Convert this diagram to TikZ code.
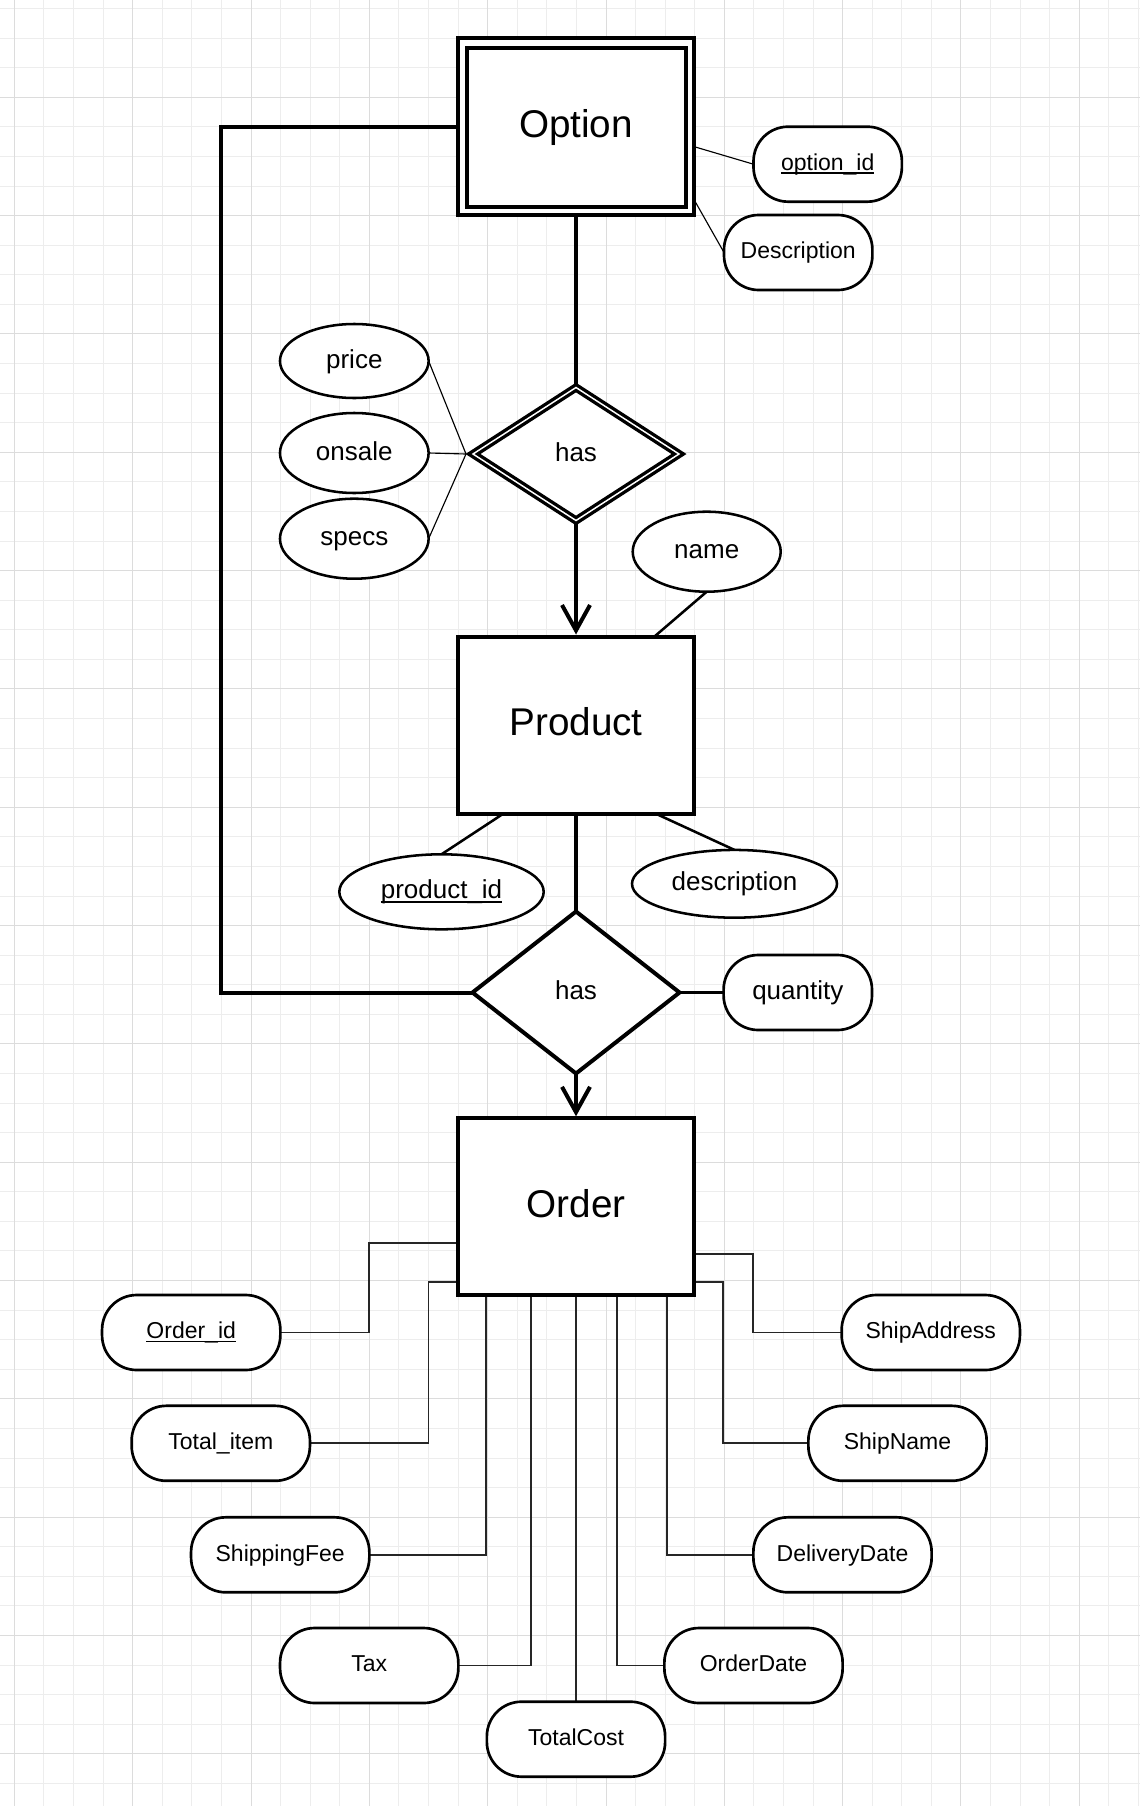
\documentclass[tikz,border=0pt]{standalone}
\usepackage{fontspec}
\setmainfont{Liberation Sans}
\usetikzlibrary{shapes.geometric,arrows.meta,calc}
\pgfdeclarelayer{gridlayer}
\pgfdeclarelayer{connlayer}
\pgfsetlayers{gridlayer,connlayer,main}
\newcommand\ulin[1]{\setbox0\hbox{#1}\rlap{\rule[-0.15em]{\wd0}{0.06em}}\box0}
\definecolor{gridminor}{HTML}{EDEDED}
\definecolor{gridmajor}{HTML}{DCDCDC}
\begin{document}
\begin{tikzpicture}[x=0.75pt,y=-0.75pt,
  every node/.style={outer sep=0pt, inner sep=0pt},
  entity/.style={draw, line width=3pt, fill=white, minimum width=177.4pt, minimum height=132.75pt,
    font=\fontsize{29}{34}\selectfont, text height=15.7pt, text depth=0pt},
  relship/.style={diamond, draw, fill=white, font=\fontsize{19.5}{23}\selectfont, text height=10.5pt, text depth=0pt},
  attrell/.style={ellipse, draw, line width=1.9pt, fill=white, minimum width=111.5pt, minimum height=60pt,
    font=\fontsize{19.5}{23}\selectfont, text height=10.5pt, text depth=0pt},
  attrpill/.style={rectangle, rounded corners=26pt, draw, line width=2pt, fill=white, minimum width=133.7pt,
    minimum height=56.25pt, font=\fontsize{17.25}{21}\selectfont, text height=9.3pt, text depth=0pt},
  smallpill/.style={attrpill, minimum width=111.3pt},
  flow/.style={line width=3pt},
  link/.style={line width=1.9pt},
  hair/.style={line width=0.85pt},
  oline/.style={line width=1.3pt, black!85},
  barb/.style={-{Straight Barb[length=19pt,width=21pt]}, shorten >=1.5pt},
]
\useasboundingbox (0,0) rectangle (1140,1806);

% ---------- grid ----------
\begin{pgfonlayer}{gridlayer}
\fill[white] (0,0) rectangle (1140,1806);
\foreach \k in {0,...,38} \draw[gridminor, line width=0.75pt] ({14.4+\k*29.58},0) -- ({14.4+\k*29.58},1806);
\foreach \k in {0,...,60} \draw[gridminor, line width=0.75pt] (0,{8.6+\k*29.58}) -- (1140,{8.6+\k*29.58});
\foreach \k in {0,4,...,36} \draw[gridmajor, line width=0.75pt] ({14.4+\k*29.58},0) -- ({14.4+\k*29.58},1806);
\foreach \k in {3,7,...,59} \draw[gridmajor, line width=0.75pt] (0,{8.6+\k*29.58}) -- (1140,{8.6+\k*29.58});
\end{pgfonlayer}

% ---------- entities ----------
\node[entity] (option) at (576,126.7) {Option};
\draw[line width=3pt] ([shift={(9.5,10)}]option.north west) rectangle ([shift={(-8.5,-8.5)}]option.south east);
\node[entity] (product) at (576,725) {Product};
\node[entity] (order) at (576,1206.8) {Order};

% ---------- relationships ----------
\node[relship, double=white, double distance=1.1pt, line width=2.5pt, minimum width=154.5pt, minimum height=99.75pt] (has1) at (576,454) {has};
\node[relship, line width=3pt, minimum width=155.25pt, minimum height=121.5pt] (has2) at (576,992.5) {has};

% ---------- attributes ----------
\node[smallpill] (optid) at (827.7,164.2) {\ulin{option\_id}};
\node[smallpill] (optdesc) at (798.2,252.5) {Description};

\node[attrell, minimum height=55.5pt] (price) at (354.3,361) {price};
\node[attrell] (onsale) at (354.3,453) {onsale};
\node[attrell] (specs) at (354.3,538.7) {specs};
\node[attrell, minimum width=111pt] (name) at (706.7,551.7) {name};

\node[attrell, minimum width=153.3pt, minimum height=56.25pt] (pid) at (441.5,891.8) {\ulin{product\_id}};
\node[attrell, minimum width=153.75pt, minimum height=50.8pt] (pdesc) at (734.5,883.8) {description};

\node[smallpill, font=\fontsize{19.5}{23}\selectfont, text height=10.5pt] (qty) at (797.8,992.5) {quantity};

\node[attrpill] (orderid) at (191.2,1332.5) {\ulin{Order\_id}};
\node[attrpill] (totalitem) at (220.8,1443.3) {Total\_item};
\node[attrpill] (shipfee) at (280.2,1554.8) {ShippingFee};
\node[attrpill] (tax) at (369.2,1665.5) {Tax};
\node[attrpill] (totalcost) at (576,1739.2) {TotalCost};
\node[attrpill] (orderdate) at (753.5,1665.5) {OrderDate};
\node[attrpill] (deliverydate) at (842.5,1554.8) {DeliveryDate};
\node[attrpill] (shipname) at (897.5,1443.3) {ShipName};
\node[attrpill] (shipaddr) at (930.8,1332.5) {ShipAddress};

\coordinate (lcorner) at (221.4,126.7);

% ---------- connectors ----------
\begin{pgfonlayer}{connlayer}
\draw[flow] (option.south) -- (has1.north);
\draw[flow, barb] (has1.south) -- (product.north);
\draw[flow] (product.south) -- (has2.north);
\draw[flow, barb] (has2.south) -- (order.north);
\draw[flow] (option.west) -- (lcorner) |- (has2.west);

\draw[hair] ($(option.east)+(0,20)$) -- (optid.west);
\draw[hair] ($(option.east)+(0,73.3)$) -- (optdesc.west);

\draw[hair] (price.east) -- ($(has1.west)+(-7,0)$);
\draw[hair] (onsale.east) -- ($(has1.west)+(-7,0)$);
\draw[hair] (specs.east) -- ($(has1.west)+(-7,0)$);

\draw[link] (name.south) -- ($(product.north)+(78.5,0)$);
\draw[link] ($(product.south)+(-72.4,0)$) -- (pid.north);
\draw[link] ($(product.south)+(79.4,0)$) -- (pdesc.north);
\draw[line width=2.3pt] (has2.east) -- (qty.west);

\draw[oline] (orderid.east) -| ($(order.west)+(-88.6,36.5)$) -- ($(order.west)+(0,36.5)$);
\draw[oline] (totalitem.east) -| ($(order.west)+(-29.2,75.2)$) -- ($(order.west)+(0,75.2)$);
\draw[oline] (shipfee.east) -| ($(order.south)+(-90.3,0)$);
\draw[oline] (tax.east) -| ($(order.south)+(-45.3,0)$);
\draw[oline] (totalcost.north) -- (order.south);
\draw[oline] (orderdate.west) -| ($(order.south)+(41.3,0)$);
\draw[oline] (deliverydate.west) -| ($(order.south)+(90.7,0)$);
\draw[oline] (shipname.west) -| ($(order.east)+(29,74.9)$) -- ($(order.east)+(0,74.9)$);
\draw[oline] (shipaddr.west) -| ($(order.east)+(58.8,47.5)$) -- ($(order.east)+(0,47.5)$);
\end{pgfonlayer}
\end{tikzpicture}
\end{document}
